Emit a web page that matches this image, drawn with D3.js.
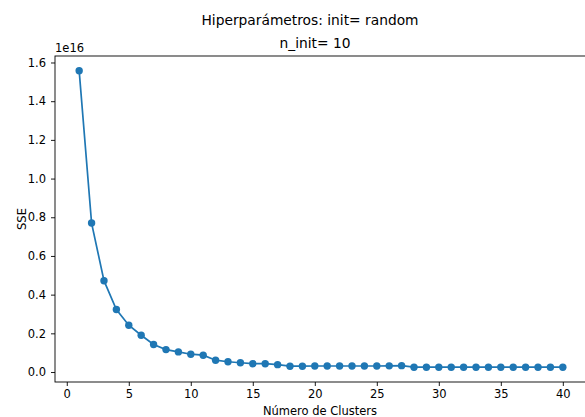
<!DOCTYPE html>
<html lang="es">
<head>
<meta charset="UTF-8">
<title>SSE vs clusters</title>
<script src="https://cdn.jsdelivr.net/npm/d3@7"></script>
<style>
  body { margin: 0; background: #fff; }
  svg text { font-family: "DejaVu Sans", sans-serif; fill: #000; }
</style>
</head>
<body>
<svg id="chart" width="585" height="417"></svg>
<script>
// data (SSE in units of 1e16)
const clusters = d3.range(1, 41);
const sse = [1.557, 0.770, 0.472, 0.323, 0.242, 0.190, 0.142, 0.116, 0.104, 0.092,
             0.087, 0.061, 0.053, 0.048, 0.043, 0.043, 0.038, 0.030, 0.030, 0.031,
             0.031, 0.031, 0.031, 0.031, 0.031, 0.032, 0.033, 0.025, 0.025, 0.025,
             0.025, 0.025, 0.025, 0.025, 0.025, 0.025, 0.025, 0.025, 0.025, 0.025];
const xTicks = [0, 5, 10, 15, 20, 25, 30, 35, 40];
const yTicks = [0.0, 0.2, 0.4, 0.6, 0.8, 1.0, 1.2, 1.4, 1.6];

const mLeft = 55, mRight = 587, mTop = 56, mBottom = 382;
const tickFont = 11.5, titleFont = 13.8;
const svg = d3.select("#chart");

// matplotlib-like 5% margins
const xr = d3.extent(clusters), yr = d3.extent(sse);
const xPad = (xr[1] - xr[0]) * 0.05, yPad = (yr[1] - yr[0]) * 0.05;
const x = d3.scaleLinear().domain([xr[0] - xPad, xr[1] + xPad]).range([mLeft, mRight]);
const y = d3.scaleLinear().domain([yr[0] - yPad, yr[1] + yPad]).range([mBottom, mTop]);

const xAxis = svg.append("g")
    .attr("transform", `translate(0,${mBottom})`)
    .call(d3.axisBottom(x).tickValues(xTicks).tickFormat(d3.format("d")).tickSizeInner(4).tickSizeOuter(0).tickPadding(4));
const yAxis = svg.append("g")
    .attr("transform", `translate(${mLeft},0)`)
    .call(d3.axisLeft(y).tickValues(yTicks).tickFormat(d3.format(".1f")).tickSizeInner(4).tickSizeOuter(0).tickPadding(5));

[xAxis, yAxis].forEach(g => {
    g.select(".domain").remove();
    g.selectAll(".tick line").attr("stroke", "#000").attr("stroke-width", 0.9);
    g.selectAll(".tick text").attr("font-size", tickFont).attr("fill", "#000");
});

// frame
svg.append("rect")
    .attr("x", mLeft).attr("y", mTop)
    .attr("width", mRight - mLeft).attr("height", mBottom - mTop)
    .attr("fill", "none").attr("stroke", "#000").attr("stroke-width", 0.9);

const pts = clusters.map((c, i) => [c, sse[i]]);
svg.append("path")
    .datum(pts)
    .attr("fill", "none")
    .attr("stroke", "#1f77b4")
    .attr("stroke-width", 1.7)
    .attr("d", d3.line().x(d => x(d[0])).y(d => y(d[1])));

svg.append("g").selectAll("circle")
    .data(pts)
    .join("circle")
    .attr("cx", d => x(d[0]))
    .attr("cy", d => y(d[1]))
    .attr("r", 3.7)
    .attr("fill", "#1f77b4");

// texts
svg.append("text").attr("x", mLeft).attr("y", 52)
    .attr("font-size", tickFont).text("1e16");
svg.append("text").attr("x", 310).attr("y", 25)
    .attr("text-anchor", "middle").attr("font-size", titleFont).text("Hiperparámetros: init= random");
svg.append("text").attr("x", 315).attr("y", 48)
    .attr("text-anchor", "middle").attr("font-size", titleFont).text("n_init= 10");
svg.append("text").attr("x", 320).attr("y", 415)
    .attr("text-anchor", "middle").attr("font-size", tickFont).text("Número de Clusters");
svg.append("text")
    .attr("transform", `translate(26,${(mTop + mBottom) / 2}) rotate(-90)`)
    .attr("text-anchor", "middle").attr("font-size", tickFont).text("SSE");
</script>
</body>
</html>
